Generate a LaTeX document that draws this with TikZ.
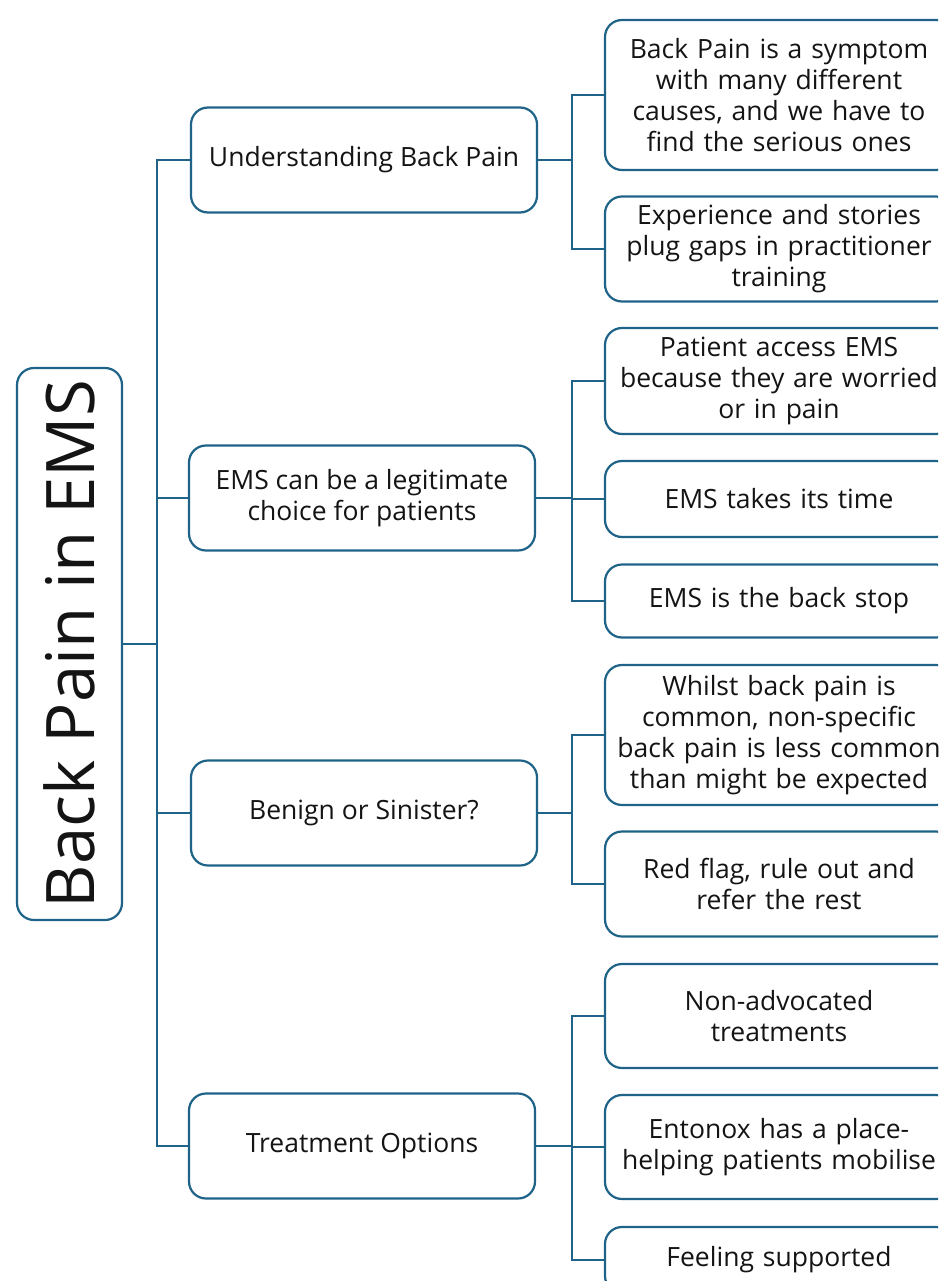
\documentclass[tikz,border=0pt]{standalone}
\usepackage{fontspec}
\setmainfont{Open Sans}
\usetikzlibrary{positioning}
\definecolor{mapblue}{HTML}{1F6389}
\definecolor{mapink}{HTML}{141414}
\tikzset{
  mapbox/.style={draw=mapblue, line width=2.2pt, rounded corners=17pt, fill=white,
    text=mapink, align=center, font=\fontsize{26.5}{31}\selectfont, inner sep=0pt},
  rootbox/.style={mapbox, rotate=90, minimum width=552pt, minimum height=105pt,
    font=\fontsize{67}{72}\selectfont},
  topicbox/.style={mapbox, minimum width=346pt, minimum height=105pt},
  leafbox/.style={mapbox, minimum width=348pt, text width=340pt},
  link/.style={draw=mapblue, line width=2.2pt},
}
\begin{document}
\begin{tikzpicture}[x=1pt, y=-1pt]
		\useasboundingbox (0,0) rectangle (938,1281);
		\clip (0,0) rectangle (938,1281);
		
		% root
		\node[rootbox] (root) at (69.5,644) {Back Pain in EMS};
		
		% topics
		\node[topicbox] (und) at (364,160) {Understanding Back Pain};
		\node[topicbox] (ems) at (362,498) {EMS can be a legitimate\\choice for patients};
		\node[topicbox] (ben) at (364,813) {Benign or Sinister?};
		\node[topicbox] (trt) at (362,1146) {Treatment Options};
		
		% (1) Understanding Back Pain
		\node[leafbox, minimum height=150pt] (und1) at (779,95) {Back Pain is a symptom\\with many different\\causes, and we have to\\find the serious ones};
		\node[leafbox, minimum height=105pt] (und2) at (779,249) {Experience and stories\\plug gaps in practitioner\\training};
		
		% (2) EMS can be a legitimate choice
		\node[leafbox, minimum height=106pt] (ems1) at (779,381) {Patient access EMS\\because they are worried\\or in pain};
		\node[leafbox, minimum height=76pt] (ems2) at (779,499) {EMS takes its time};
		\node[leafbox, minimum height=73pt] (ems3) at (779,601) {EMS is the back stop};
		
		% (3) Benign or Sinister
		\node[leafbox, minimum height=140pt] (ben1) at (779,735) {Whilst back pain is\\common, non-specific\\back pain is less common\\than might be expected};
		\node[leafbox, minimum height=105pt] (ben2) at (779,884) {Red flag, rule out and\\refer the rest};
		
		% (4) Treatment Options
		\node[leafbox, minimum height=104pt] (trt1) at (779,1016) {Non-advocated\\treatments};
		\node[leafbox, minimum height=104pt] (trt2) at (779,1147) {Entonox has a place-\\helping patients mobilise};
		\node[leafbox, minimum height=66pt] (trt3) at (779,1260) {Feeling supported};
		
		% connectors
		\draw[link] (root.south) -- ++(34,0) coordinate (bus0);
		\foreach \n in {und,ems,ben,trt}
			\draw[link] (bus0) |- (\n.west);
		\draw[link] (und.east) -- ++(34,0) coordinate (bus1);
		\foreach \n in {und1,und2}
			\draw[link] (bus1) |- (\n.west);
		\draw[link] (ems.east) -- ++(36,0) coordinate (bus2);
		\foreach \n in {ems1,ems2,ems3}
			\draw[link] (bus2) |- (\n.west);
		\draw[link] (ben.east) -- ++(34,0) coordinate (bus3);
		\foreach \n in {ben1,ben2}
			\draw[link] (bus3) |- (\n.west);
		\draw[link] (trt.east) -- ++(36,0) coordinate (bus4);
		\foreach \n in {trt1,trt2,trt3}
			\draw[link] (bus4) |- (\n.west);
	\end{tikzpicture}
\end{document}
